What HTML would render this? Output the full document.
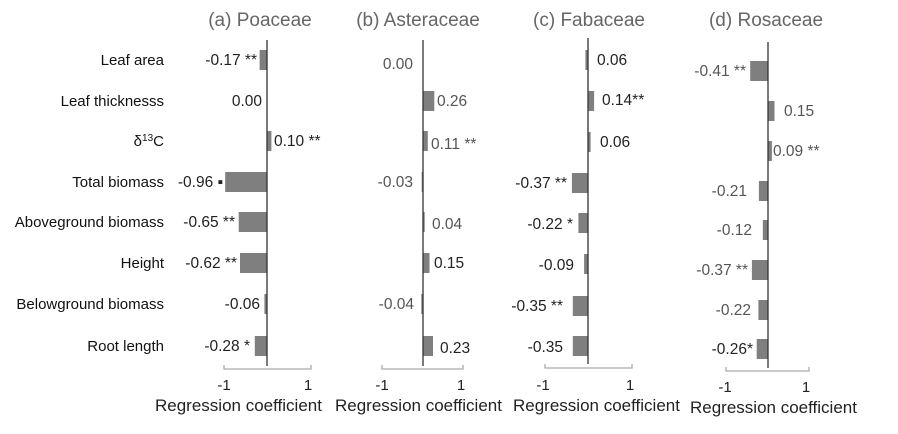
<!DOCTYPE html>
<html><head><meta charset="utf-8"><style>
html,body{margin:0;padding:0;background:#fff;}
svg{display:block;font-family:"Liberation Sans",Arial,sans-serif;}
.t{font-size:19px;fill:#666;text-anchor:middle}
.c{font-size:15px;fill:#111;text-anchor:end}
.v{font-size:15.5px;fill:#222}
.g{font-size:15.5px;fill:#555}
.e{text-anchor:end}
.k{font-size:15px;fill:#222;text-anchor:middle}
.x{font-size:17px;fill:#222}
rect{fill:#7f7f7f}
.ax{stroke:#333;stroke-width:1.3}
.br{stroke:#aaa;stroke-width:1.3;fill:none}
</style></head><body>
<svg width="898" height="434" viewBox="0 0 898 434">
<text class="t" x="260" y="26">(a) Poaceae</text>
<text class="t" x="418" y="26">(b) Asteraceae</text>
<text class="t" x="589" y="26">(c) Fabaceae</text>
<text class="t" x="766" y="26">(d) Rosaceae</text>

<text class="c" x="164" y="65">Leaf area</text>
<text class="c" x="164" y="106">Leaf thicknesss</text>
<text class="c" x="164" y="146">δ<tspan font-size="10" dy="-5">13</tspan><tspan dy="5">C</tspan></text>
<text class="c" x="164" y="187">Total biomass</text>
<text class="c" x="164" y="227">Aboveground biomass</text>
<text class="c" x="164" y="268">Height</text>
<text class="c" x="164" y="309">Belowground biomass</text>
<text class="c" x="164" y="351">Root length</text>

<!-- panel a -->
<rect x="259.6" y="50" width="7.4" height="20"/>
<rect x="267" y="131" width="4.4" height="20"/>
<rect x="225.2" y="172" width="41.8" height="20"/>
<rect x="238.7" y="212" width="28.3" height="20"/>
<rect x="240" y="253" width="27" height="20"/>
<rect x="264.4" y="294" width="2.6" height="20"/>
<rect x="254.8" y="336" width="12.2" height="20"/>
<line class="ax" x1="267" y1="40" x2="267" y2="366"/>
<path class="br" d="M224 365V369H311V365"/>
<text class="v e" x="257" y="65">-0.17 **</text>
<text class="v e" x="262" y="106">0.00</text>
<text class="v" x="274" y="146">0.10 **</text>
<text class="v e" x="223" y="187">-0.96 ▪</text>
<text class="v e" x="235" y="227">-0.65 **</text>
<text class="v e" x="237" y="268">-0.62 **</text>
<text class="v e" x="260" y="309">-0.06</text>
<text class="v e" x="250" y="351">-0.28 *</text>
<text class="k" x="224" y="390">-1</text><text class="k" x="308" y="390">1</text>
<text class="x" x="155" y="411">Regression coefficient</text>

<!-- panel b -->
<rect x="423" y="91" width="11.3" height="20"/>
<rect x="423" y="131" width="4.8" height="20"/>
<rect x="421.7" y="172" width="1.3" height="20"/>
<rect x="423" y="212" width="1.7" height="20"/>
<rect x="423" y="253" width="6.5" height="20"/>
<rect x="421.3" y="294" width="1.7" height="20"/>
<rect x="423" y="336" width="10" height="20"/>
<line class="ax" x1="423" y1="40" x2="423" y2="366"/>
<path class="br" d="M382 365V369H463V365"/>
<text class="g e" x="413" y="69">0.00</text>
<text class="g" x="437" y="106">0.26</text>
<text class="g" x="431" y="149">0.11 **</text>
<text class="g e" x="413" y="187">-0.03</text>
<text class="g" x="432" y="229">0.04</text>
<text class="v" x="434" y="268">0.15</text>
<text class="g e" x="414" y="309">-0.04</text>
<text class="v" x="440" y="353">0.23</text>
<text class="k" x="382" y="390">-1</text><text class="k" x="461" y="390">1</text>
<text class="x" x="335" y="411">Regression coefficient</text>

<!-- panel c -->
<rect x="585.4" y="50" width="2.6" height="20"/>
<rect x="588" y="91" width="6.1" height="20"/>
<rect x="588" y="132" width="2.6" height="20"/>
<rect x="571.9" y="173" width="16.1" height="20"/>
<rect x="578.4" y="213" width="9.6" height="20"/>
<rect x="584.1" y="254" width="3.9" height="20"/>
<rect x="572.8" y="296" width="15.2" height="20"/>
<rect x="572.8" y="336" width="15.2" height="20"/>
<line class="ax" x1="588" y1="38" x2="588" y2="364"/>
<path class="br" d="M545 364V368H632V364"/>
<text class="v" x="597" y="65">0.06</text>
<text class="v" x="602" y="105">0.14**</text>
<text class="v" x="600" y="147">0.06</text>
<text class="v e" x="567" y="188">-0.37 **</text>
<text class="v e" x="573" y="229">-0.22 *</text>
<text class="v e" x="574" y="270">-0.09</text>
<text class="v e" x="563" y="311">-0.35 **</text>
<text class="v e" x="563" y="352">-0.35</text>
<text class="k" x="543" y="390">-1</text><text class="k" x="630" y="390">1</text>
<text class="x" x="513" y="411">Regression coefficient</text>

<!-- panel d -->
<rect x="750.2" y="61" width="17.8" height="20"/>
<rect x="768" y="101" width="6.5" height="20"/>
<rect x="768" y="141" width="3.9" height="20"/>
<rect x="758.9" y="181" width="9.1" height="20"/>
<rect x="762.8" y="220" width="5.2" height="20"/>
<rect x="751.9" y="260" width="16.1" height="20"/>
<rect x="758.4" y="300" width="9.6" height="20"/>
<rect x="756.7" y="339" width="11.3" height="20"/>
<line class="ax" x1="768" y1="42" x2="768" y2="368"/>
<path class="br" d="M726 367V371H809V367"/>
<text class="g e" x="746" y="76">-0.41 **</text>
<text class="g" x="784" y="116">0.15</text>
<text class="g" x="773" y="156">0.09 **</text>
<text class="g e" x="747" y="196">-0.21</text>
<text class="g e" x="752" y="235">-0.12</text>
<text class="g e" x="748" y="275">-0.37 **</text>
<text class="g e" x="751" y="315">-0.22</text>
<text class="v e" x="753" y="354">-0.26*</text>
<text class="k" x="725" y="392">-1</text><text class="k" x="806" y="392">1</text>
<text class="x" x="690" y="413">Regression coefficient</text>
</svg>
</body></html>
